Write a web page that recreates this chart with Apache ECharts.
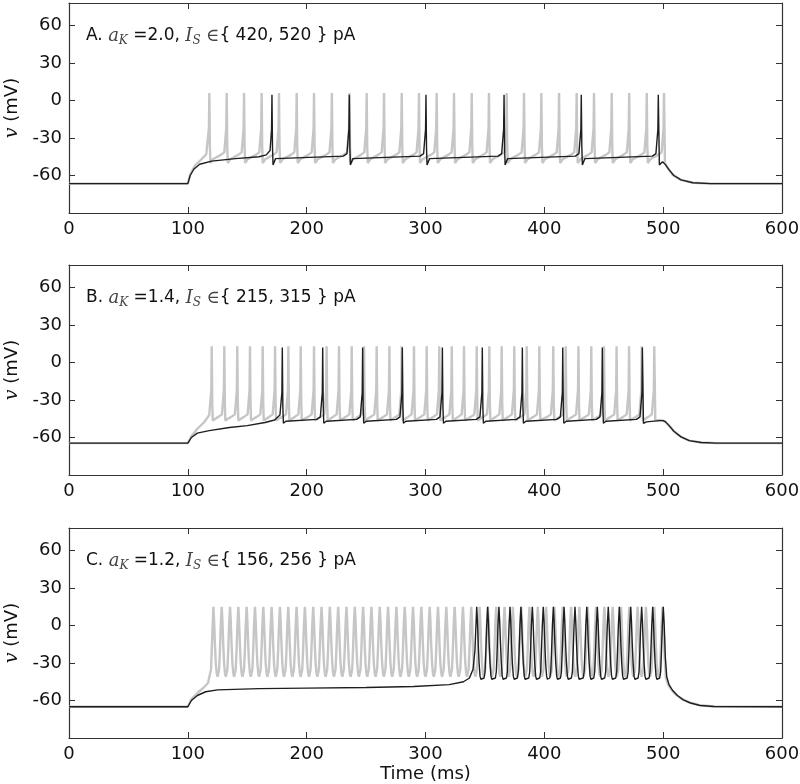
<!DOCTYPE html>
<html>
<head>
<meta charset="utf-8">
<script src="https://cdn.jsdelivr.net/npm/echarts@6/dist/echarts.min.js"></script>
<style>
  html, body { margin: 0; padding: 0; background: #fff; }
  #chart { width: 800px; height: 784px; }
</style>
</head>
<body>
<div id="chart"></div>
<script>
// spike peak times (ms)
const greyA_spikes = [118.1, 132.7, 147.3, 162.1, 176.7, 191.6, 206.2, 221.2, 236.0, 250.5, 265.1, 280.0, 294.5,
  309.4, 324.0, 338.9, 353.4, 368.3, 382.9, 397.5, 412.4, 427.2, 441.8, 456.7, 471.4, 486.2, 500.7];
const blackA_spikes = [170.8, 235.9, 300.4, 366.1, 431.1, 495.9];

const greyB_spikes = [120.1, 130.7, 141.6, 152.3, 163.0, 173.4, 184.6, 195.0, 206.2, 216.8, 227.2, 237.9,
  248.3, 258.9, 269.6, 280.0, 290.3, 301.0, 311.6, 322.1, 332.4, 343.1, 353.7, 364.1, 374.7, 385.2,
  395.8, 407.5, 418.0, 428.7, 439.5, 450.2, 460.8, 471.3, 482.0, 492.5];
const blackB_spikes = [179.5, 213.5, 247.1, 280.5, 314.2, 347.8, 381.5, 415.5, 448.8, 482.5];

const greyC_spikes = [121.5, 128.5, 135.5, 142.5, 149.5, 156.5, 163.5, 170.5, 177.5, 184.5, 191.5, 198.5,
  205.5, 212.5, 219.5, 226.5, 233.5, 240.5, 247.5, 254.5, 261.5, 268.5, 275.5, 282.5, 289.5, 296.5,
  303.5, 310.5, 317.5, 324.5, 331.5, 338.5, 345.5, 352.5, 359.5, 366.5, 373.5, 380.5, 387.5, 394.5,
  401.5, 408.5, 415.5, 422.5, 429.5, 436.5, 443.5, 450.5, 457.5, 464.5, 471.5, 478.5, 485.5, 492.5, 499.5];
const blackC_spikes = [343.1, 352.3, 361.8, 371.1, 380.3, 389.9, 399.1, 407.6, 416.6, 425.8, 435.7, 444.6,
  453.8, 463.1, 472.7, 481.9, 491.2, 500.1];

// voltage levels (mV): [peak, trough, rebound, pre-spike]
const greyA_levels = [6, -50, -47, -40];
const blackA_levels = [4.5, -51.5, -46.5, -41];
const greyB_levels = [13, -46.5, -45, -40];
const blackB_levels = [12, -48.6, -47, -42];
const greyC_levels = [15, -41];
const blackC_levels = [15, -43];

// subthreshold parts before the first spike and after the last one [t, v]
const greyA_on = [[0, -66.5], [100, -66.5], [102, -59], [106, -52], [111, -47.5], [115.5, -43]];
const blackA_on = [[0, -66.5], [100, -66.5], [102, -60], [105, -55], [110, -51], [120, -48.5], [140, -46.5], [160, -45], [166, -43.5], [169.2, -40]];
const greyA_off = [[501.5, -50], [504, -54], [508, -59.5], [515, -63.5], [525, -65.8], [540, -66.5], [600, -66.5]];
const blackA_off = [[496.8, -51.5], [499.5, -49], [502, -51.5], [505, -55.5], [509, -60], [515, -63.5], [525, -65.8], [540, -66.5], [600, -66.5]];

const greyB_on = [[0, -64.5], [100, -64.5], [103, -59], [108, -53], [114, -47.5], [118, -42]];
const blackB_on = [[0, -64.5], [100, -64.5], [103, -60], [108, -56.5], [118, -54.5], [135, -52], [150, -50.5], [165, -48], [173, -46], [177.5, -42]];
const greyB_off = [[493.4, -46.5], [496, -46], [500, -46.5], [502, -47.5], [505, -50.5], [509, -55], [515, -59.5], [522, -62.5], [532, -64], [545, -64.5], [600, -64.5]];
const blackB_off = [[483.4, -48.6], [486, -47.5], [497, -46.5], [500, -46.5], [502, -47.5], [505, -50.5], [509, -55], [515, -59.5], [522, -62.5], [532, -64], [545, -64.5], [600, -64.5]];

const greyC_on = [[0, -65], [100, -65], [103, -59], [108, -54], [113, -50], [117, -46], [119.5, -35]];
const blackC_on = [[0, -65], [100, -65], [103, -60], [108, -56], [115, -53], [125, -51.5], [160, -50.5], [200, -50.1], [250, -49.6], [290, -48.8], [320, -47.3], [332, -45], [337, -42], [340, -35], [341.6, -20]];
const greyC_off = [[500.3, 0], [501.2, -25], [502.3, -42], [504, -47], [507, -51.5], [511, -55.5], [516, -59], [522, -61.5], [530, -63.5], [542, -64.8], [600, -65]];
const blackC_off = [[500.9, 0], [501.8, -25], [503, -41], [505, -47.5], [508, -52], [512, -56], [517, -59.5], [523, -62], [531, -64], [543, -64.8], [600, -65]];

const xTicks = [0, 100, 200, 300, 400, 500, 600];
const yTicks = [-60, -30, 0, 30, 60];
const titles = [
  ['A.', '2.0', '420, 520'],
  ['B.', '1.4', '215, 315'],
  ['C.', '1.2', '156, 256']
];

// sharp spikes (panels A, B)
function sharpTrace(on, spikes, lv, off) {
  const [peak, trough, rebound, pre] = lv;
  const pts = on.slice();
  spikes.forEach((t, i) => {
    pts.push([t - 0.35, pre + 18], [t, peak]);
    if (i < spikes.length - 1) {
      const tn = spikes[i + 1];
      pts.push([t + 0.45, trough + 14], [t + 0.9, trough], [t + 3, rebound], [tn - 5, pre - 3.5], [tn - 2, pre - 1.5], [tn - 1, pre]);
    }
  });
  return pts.concat(off);
}

// broad spikes (panel C)
function broadTrace(on, spikes, lv, off) {
  const [peak, trough] = lv;
  const pts = on.slice();
  spikes.forEach((t, i) => {
    pts.push([t, peak]);
    if (i < spikes.length - 1) {
      const tn = spikes[i + 1];
      pts.push([t + 0.6, 4], [t + 1.3, -15], [t + 2.0, -30], [t + 2.8, trough + 2.5], [t + 3.5, trough],
        [tn - 3.0, trough + 1], [tn - 2.2, trough + 6], [tn - 1.5, -20], [tn - 0.8, 0]);
    }
  });
  return pts.concat(off);
}

const traces = [
  [sharpTrace(greyA_on, greyA_spikes, greyA_levels, greyA_off), sharpTrace(blackA_on, blackA_spikes, blackA_levels, blackA_off)],
  [sharpTrace(greyB_on, greyB_spikes, greyB_levels, greyB_off), sharpTrace(blackB_on, blackB_spikes, blackB_levels, blackB_off)],
  [broadTrace(greyC_on, greyC_spikes, greyC_levels, greyC_off), broadTrace(blackC_on, blackC_spikes, blackC_levels, blackC_off)]
];

const chart = echarts.init(document.getElementById('chart'));

const tops = [3, 265, 528];
const grid = [], xAxis = [], yAxis = [], series = [], title = [];
const lineColor = '#333';
const sans = 'DejaVu Sans';
const serif = 'DejaVu Serif';

tops.forEach((top, i) => {
  grid.push({ left: 69, width: 713, top: top, height: 210, outerBoundsMode: 'none', containLabel: false });
  const tickCommon = { inside: true, length: 6, lineStyle: { color: lineColor, width: 1 } };
  xAxis.push({
    type: 'value', gridIndex: i, min: 0, max: 600, interval: 100, position: 'bottom',
    axisLine: { show: true, onZero: false, lineStyle: { color: lineColor, width: 1.2 } },
    axisTick: tickCommon, splitLine: { show: false },
    axisLabel: { fontFamily: sans, fontSize: 18, color: '#111', margin: 7, showMaxLabel: true },
    name: i === 2 ? 'Time (ms)' : '', nameLocation: 'middle', nameGap: 27,
    nameTextStyle: { fontFamily: sans, fontSize: 18, color: '#111' }
  });
  xAxis.push({
    type: 'value', gridIndex: i, min: 0, max: 600, interval: 100, position: 'top',
    axisLine: { show: true, onZero: false, lineStyle: { color: lineColor, width: 1.2 } },
    axisTick: tickCommon, axisLabel: { show: false }, splitLine: { show: false }
  });
  yAxis.push({
    type: 'value', gridIndex: i, min: -90, max: 78, interval: 30, position: 'left',
    axisLine: { show: true, onZero: false, lineStyle: { color: lineColor, width: 1.2 } },
    axisTick: tickCommon, splitLine: { show: false },
    axisLabel: {
      fontFamily: sans, fontSize: 18, color: '#111', margin: 7,
      formatter: v => (yTicks.indexOf(v) >= 0 ? String(v) : '')
    },
    name: '{v|v} (mV)', nameLocation: 'middle', nameGap: 36, nameRotate: 90,
    nameTextStyle: {
      fontFamily: sans, fontSize: 18, color: '#111',
      rich: { v: { fontFamily: serif, fontStyle: 'italic', fontSize: 19, color: '#111' } }
    }
  });
  yAxis.push({
    type: 'value', gridIndex: i, min: -90, max: 78, interval: 30, position: 'right',
    axisLine: { show: true, onZero: false, lineStyle: { color: lineColor, width: 1.2 } },
    axisTick: tickCommon, axisLabel: { show: false }, splitLine: { show: false }
  });

  const [lab, ak, cur] = titles[i];
  title.push({
    left: 81, top: top + 17,
    text: '{n|' + lab + ' }{m|a}{s|K}{n| =' + ak + ', }{m|I}{s|S}{n| }{m|∈}{ ' + cur + ' } pA',
    textStyle: {
      fontFamily: sans, fontSize: 17, fontWeight: 'normal', color: '#111',
      rich: {
        n: { fontFamily: sans, fontSize: 17, color: '#111' },
        m: { fontFamily: serif, fontStyle: 'italic', fontSize: 18, color: '#444' },
        s: { fontFamily: serif, fontStyle: 'italic', fontSize: 12, color: '#444', padding: [10, 0, 0, 0] }
      }
    }
  });

  series.push({
    type: 'line', xAxisIndex: 2 * i, yAxisIndex: 2 * i, data: traces[i][0],
    showSymbol: false, symbol: 'none', lineStyle: { color: '#c6c6c6', width: 2.4 }, z: 2
  });
  series.push({
    type: 'line', xAxisIndex: 2 * i, yAxisIndex: 2 * i, data: traces[i][1],
    showSymbol: false, symbol: 'none', lineStyle: { color: '#1e1e1e', width: 1.4 }, z: 3
  });
});

chart.setOption({
  animation: false,
  backgroundColor: '#fff',
  title, grid, xAxis, yAxis, series
});
</script>
</body>
</html>
